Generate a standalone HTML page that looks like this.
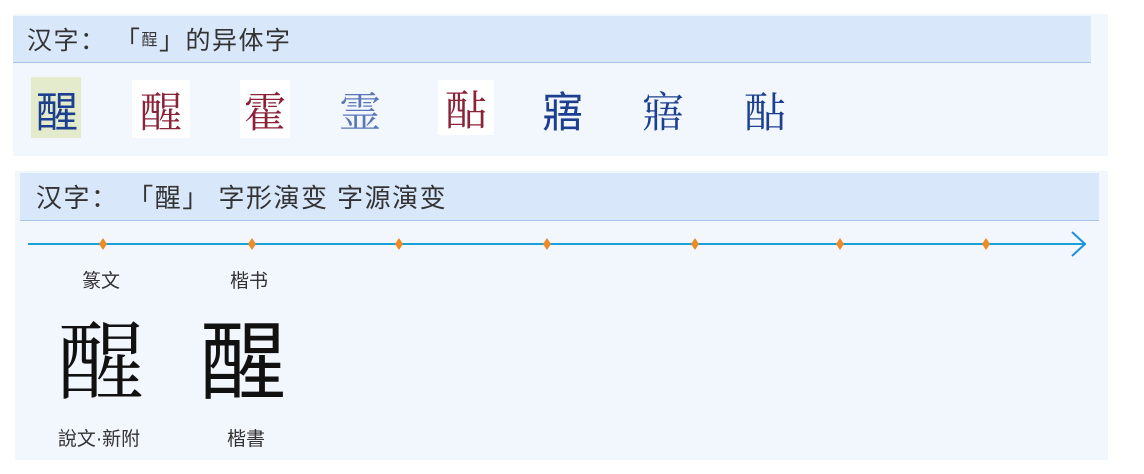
<!DOCTYPE html>
<html><head><meta charset="utf-8"><style>
body{margin:0;width:1144px;height:474px;background:#fff;position:relative;overflow:hidden;font-family:"Liberation Sans","Noto Sans CJK SC",sans-serif}
.a{position:absolute}
.p{background:#f2f6fd}
.h{background:#d9e7fb;border-bottom:1px solid #a9c4e8;color:#333;font-size:25px;line-height:50px;padding-left:14px;box-sizing:border-box;white-space:nowrap;letter-spacing:1.5px}
.v{font-family:"Noto Serif CJK SC","Noto Sans CJK SC",serif;font-size:42px;line-height:60px;text-align:center;width:60px}
.l{font-size:19px;color:#333;text-align:center;width:120px}
</style></head><body>
<div class="a p" style="left:13px;top:14px;width:1095px;height:142px"></div>
<div class="a h" style="left:13px;top:16px;width:1078px;height:47px">汉字：&nbsp;「<span style="font-size:16px;vertical-align:4px">酲</span>」的异体字</div>
<div class="a" style="left:31px;top:77px;width:50px;height:61px;background:#e3ebcc"></div>
<div class="a v" style="left:27px;top:80px;color:#1c3f8f;font-family:'Noto Sans CJK SC',sans-serif">醒</div>
<div class="a" style="left:132px;top:80px;width:58px;height:58px;background:#fff"></div>
<div class="a v" style="left:131px;top:80px;color:#8a2238">醒</div>
<div class="a" style="left:240px;top:80px;width:50px;height:58px;background:#fff"></div>
<div class="a v" style="left:235px;top:80px;color:#8a2238">霍</div>
<div class="a v" style="left:330px;top:80px;color:#5a77b8">霊</div>
<div class="a" style="left:438px;top:80px;width:56px;height:55px;background:#fff"></div>
<div class="a v" style="left:436px;top:78px;color:#8a2238">酟</div>
<div class="a v" style="left:533px;top:80px;color:#1c3f8f;font-family:'Noto Sans CJK SC',sans-serif">寤</div>
<div class="a v" style="left:633px;top:80px;color:#1c3f8f">寤</div>
<div class="a v" style="left:735px;top:80px;color:#1c3f8f">酟</div>

<div class="a p" style="left:15px;top:171px;width:1093px;height:289px"></div>
<div class="a h" style="left:20px;top:173px;width:1079px;height:48px;font-size:26px;padding-left:16px">汉字：&nbsp;「醒」&nbsp;字形演变 字源演变</div>
<svg class="a" style="left:0;top:0" width="1144" height="474">
<line x1="28" y1="244" x2="1085" y2="244" stroke="#1aa0d8" stroke-width="2"/>
<polyline points="1072,232 1085,244 1072,256" fill="none" stroke="#1a8fe0" stroke-width="2"/>
<g fill="#f08a24">
<path d="M103 238l4 6-4 6-4-6z"/><path d="M252 238l4 6-4 6-4-6z"/><path d="M399 238l4 6-4 6-4-6z"/><path d="M547 238l4 6-4 6-4-6z"/><path d="M695 238l4 6-4 6-4-6z"/><path d="M840 238l4 6-4 6-4-6z"/><path d="M986 238l4 6-4 6-4-6z"/>
</g>
</svg>
<div class="a l" style="left:41px;top:266px">篆文</div>
<div class="a l" style="left:189px;top:266px">楷书</div>
<div class="a" style="left:58px;top:300px;font-size:86px;line-height:110px;font-family:'Noto Serif CJK SC',serif;color:#111">醒</div>
<div class="a" style="left:200px;top:300px;font-size:86px;line-height:110px;font-family:'Noto Sans CJK SC',sans-serif;color:#111">醒</div>
<div class="a l" style="left:39px;top:424px">說文·新附</div>
<div class="a l" style="left:186px;top:424px">楷書</div>
</body></html>
